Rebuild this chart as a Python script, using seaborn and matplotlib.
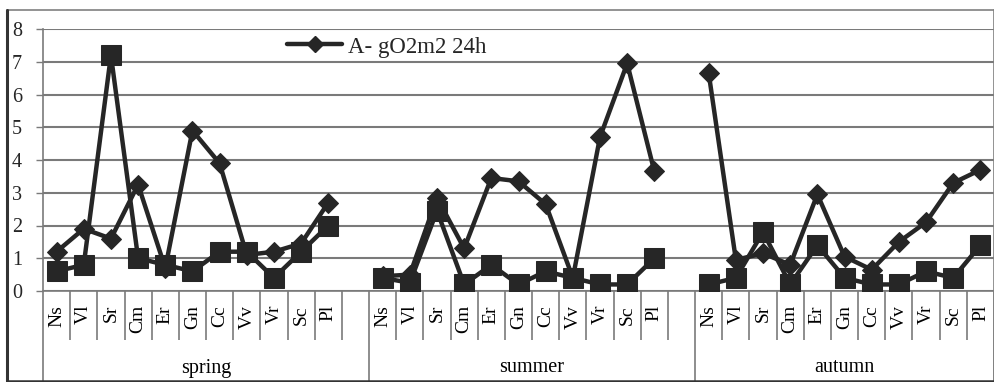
import numpy as np
import pandas as pd
import matplotlib
matplotlib.use("Agg")
import matplotlib.pyplot as plt
from matplotlib.lines import Line2D
import seaborn as sns

# ---- data -------------------------------------------------------------
categories = ["Ns", "Vl", "Sr", "Cm", "Er", "Gn", "Cc", "Vv", "Vr", "Sc", "Pl"]
seasons = ["spring", "summer", "autumn"]

series_a_label = "A- gO2m2 24h"
series_a_spring = [1.2, 1.9, 1.6, 3.25, 0.7, 4.9, 3.9, 1.1, 1.2, 1.45, 2.7]
series_a_summer = [0.45, 0.5, 2.85, 1.3, 3.45, 3.35, 2.65, 0.4, 4.7, 6.95, 3.65]
series_a_autumn = [6.65, 0.95, 1.15, 0.8, 2.95, 1.05, 0.65, 1.5, 2.1, 3.3, 3.7]

series_b_spring = [0.6, 0.8, 7.2, 1.0, 0.8, 0.6, 1.2, 1.2, 0.4, 1.2, 2.0]
series_b_summer = [0.4, 0.25, 2.45, 0.2, 0.8, 0.2, 0.6, 0.4, 0.2, 0.2, 1.0]
series_b_autumn = [0.2, 0.4, 1.8, 0.2, 1.4, 0.4, 0.2, 0.2, 0.6, 0.4, 1.4]

y_ticks = [0, 1, 2, 3, 4, 5, 6, 7, 8]

# ---- long-form table ----------------------------------------------------
# each season occupies 12 slots on the x axis (11 categories + 1 empty gap),
# the last season has no trailing gap
slots_per_season = len(categories) + 1
n_slots = slots_per_season * len(seasons) - 1

rows = []
for s_idx, (season, a_vals, b_vals) in enumerate(zip(
        seasons,
        [series_a_spring, series_a_summer, series_a_autumn],
        [series_b_spring, series_b_summer, series_b_autumn])):
    for c_idx, cat in enumerate(categories):
        pos = s_idx * slots_per_season + c_idx
        rows.append(dict(pos=pos, season=season, category=cat, series="A", value=a_vals[c_idx]))
        rows.append(dict(pos=pos, season=season, category=cat, series="B", value=b_vals[c_idx]))
df = pd.DataFrame(rows)

# ---- style --------------------------------------------------------------
sns.set_style("white")
plt.rcParams["font.family"] = ["Liberation Serif", "DejaVu Serif"]

ink = "#262626"
grid_c = "#7a7a7a"

W, H = 995, 382
fig = plt.figure(figsize=(W / 100, H / 100), dpi=100)
ax_l, ax_r, ax_t, ax_b = 43, 994, 29, 291
ax = fig.add_axes([ax_l / W, 1 - ax_b / H, (ax_r - ax_l) / W, (ax_b - ax_t) / H])

sns.lineplot(data=df[df.series == "A"], x="pos", y="value", units="season",
             estimator=None, ax=ax, color=ink, lw=3.2, marker="D",
             markersize=10, markeredgecolor=ink, markerfacecolor=ink, zorder=3)
sns.lineplot(data=df[df.series == "B"], x="pos", y="value", units="season",
             estimator=None, ax=ax, color=ink, lw=3.2, marker="s",
             markersize=14, markeredgecolor=ink, markerfacecolor=ink, zorder=4)

ax.set_xlim(-0.5, n_slots - 0.5)
ax.set_ylim(0, 8)
ax.set_yticks(y_ticks)
ax.set_yticklabels([str(t) for t in y_ticks], fontsize=14.5)
ax.tick_params(axis="y", length=5, width=1, color=grid_c, pad=10, left=True)
ax.set_xticks([])
ax.set_xlabel("")
ax.set_ylabel("")
ax.yaxis.grid(True, color=grid_c, lw=1.5)
ax.set_axisbelow(True)
for side in ["top", "right"]:
    ax.spines[side].set_visible(False)
ax.spines["left"].set_color(grid_c)
ax.spines["bottom"].set_color(grid_c)
ax.spines["left"].set_linewidth(1.2)
ax.spines["bottom"].set_linewidth(1.2)

# ---- category / season axis beneath the plot ----------------------------
ax_h = ax_b - ax_t
xt = ax.get_xaxis_transform()
tick_bottom = -(340 - ax_b) / ax_h
sep_bottom = -(H - ax_b) / ax_h
label_top = -(305 - ax_b) / ax_h
season_y = -(368 - ax_b) / ax_h

boundaries = []
for s_idx in range(len(seasons)):
    start = s_idx * slots_per_season
    for c_idx in range(len(categories) + 1):
        boundaries.append(start + c_idx - 0.5)
separators = [-0.5] + [s * slots_per_season + len(categories) + 0.5 for s in range(len(seasons))]
separators[-1] = n_slots - 0.5
inner = [b for b in boundaries if b not in separators]

ax.vlines(inner, tick_bottom, 0, transform=xt, colors=grid_c, lw=1.2, clip_on=False)
ax.vlines(separators, sep_bottom, 0, transform=xt, colors=grid_c, lw=1.2, clip_on=False)

for s_idx, season in enumerate(seasons):
    start = s_idx * slots_per_season
    for c_idx, cat in enumerate(categories):
        ax.text(start + c_idx, label_top, cat, rotation=90, ha="center", va="top",
                transform=xt, fontsize=14, color="black")
    lo = separators[s_idx]
    hi = separators[s_idx + 1]
    ax.text((lo + hi) / 2, season_y, season, ha="center", va="center",
            transform=xt, fontsize=14.5, color="black")

# ---- legend -------------------------------------------------------------
handle = Line2D([], [], color=ink, lw=3.2, marker="D", markersize=8,
                markerfacecolor=ink, markeredgecolor=ink)
ax.legend([handle], [series_a_label], loc="center left",
          bbox_to_anchor=((287 - ax_l) / (ax_r - ax_l), (ax_b - 47) / ax_h),
          frameon=False, fontsize=16.5, handlelength=2.4, handletextpad=0.25,
          borderpad=0, borderaxespad=0)

# ---- outer chart frame --------------------------------------------------
def fx(px):
    return px / W

def fy(py):
    return 1 - py / H

fig.add_artist(Line2D([fx(7), fx(994)], [fy(10), fy(10)], color="#808080", lw=1.2))
fig.add_artist(Line2D([fx(994), fx(994)], [fy(10), fy(381)], color="#808080", lw=1.2))
fig.add_artist(Line2D([fx(7), fx(7)], [fy(10), fy(381)], color="#333333", lw=2.2))
fig.add_artist(Line2D([fx(7), fx(994)], [fy(381), fy(381)], color="#333333", lw=1.8))

fig.savefig("out.png", dpi=100)
